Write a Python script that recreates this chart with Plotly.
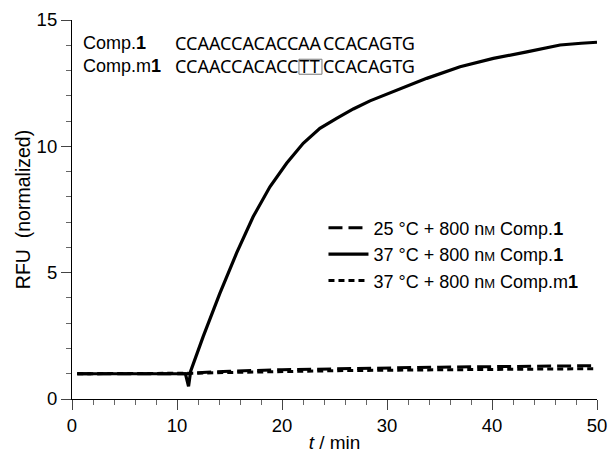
import plotly.graph_objects as go

# ---- data ----
t_37_comp1 = [0.5, 5, 10.8, 11.1, 11.3, 12.49, 14.08, 15.67, 17.25, 18.85, 20.44, 22.02,
              23.61, 25.2, 26.79, 28.38, 30.6, 33.78, 36.96, 40.13, 43.32, 46.49, 48.5, 50.0]
v_37_comp1 = [1.0, 1.0, 1.0, 0.5, 1.1, 2.47, 4.18, 5.77, 7.21, 8.40, 9.33, 10.12,
              10.71, 11.11, 11.48, 11.8, 12.17, 12.69, 13.15, 13.48, 13.74, 14.01, 14.08, 14.12]

t_25_comp1 = [0.5, 5, 11.0, 12.0, 15, 20, 25, 30, 35, 40, 45, 50.0]
v_25_comp1 = [1.0, 1.0, 1.0, 1.04, 1.1, 1.16, 1.2, 1.23, 1.26, 1.28, 1.3, 1.32]

t_37_compm1 = [0.5, 5, 11.0, 12.0, 15, 20, 25, 30, 35, 40, 45, 50.0]
v_37_compm1 = [1.0, 1.0, 1.0, 1.02, 1.05, 1.09, 1.12, 1.14, 1.16, 1.18, 1.19, 1.2]

x_ticks = [0, 10, 20, 30, 40, 50]
y_ticks = [0, 5, 10, 15]

name_25 = "25 °C + 800 n<span style='font-size:13px'>M</span> Comp.<b>1</b>"
name_37 = "37 °C + 800 n<span style='font-size:13px'>M</span> Comp.<b>1</b>"
name_m1 = "37 °C + 800 n<span style='font-size:13px'>M</span> Comp.m<b>1</b>"

FONT = "Liberation Sans, Arial, sans-serif"
SEQF = "Noto Sans, Open Sans, sans-serif"

fig = go.Figure()
fig.add_trace(go.Scatter(x=t_25_comp1, y=v_25_comp1, mode="lines", name=name_25,
                         line=dict(color="black", width=3, dash="14px,6px"),
                         legendrank=1, legendgroup="a"))
fig.add_trace(go.Scatter(x=t_37_compm1, y=v_37_compm1, mode="lines", name=name_m1,
                         line=dict(color="black", width=3, dash="6px,4px"),
                         legendrank=3, legendgroup="c"))
fig.add_trace(go.Scatter(x=t_37_comp1, y=v_37_comp1, mode="lines", name=name_37,
                         line=dict(color="black", width=3.2),
                         legendrank=2, legendgroup="b"))

# sequence annotations (two rows per annotation)
tt_center = 22.71
half = 11.5
rows_mid = 13.63          # centre between the two text rows
row2 = 13.17              # centre of the second row (for the TT box)
ann = []
ann.append(dict(x=0.9, y=rows_mid, text="Comp.<b>1</b><br>Comp.m<b>1</b>", xanchor="left",
                align="left", font=dict(family=FONT, size=18)))
ann.append(dict(x=tt_center, y=rows_mid, text="CCAACCACACC<br>CCAACCACACC", xanchor="right",
                xshift=-half + 1, align="right", font=dict(family=SEQF, size=18)))
ann.append(dict(x=tt_center, y=rows_mid, text="AA<br>TT", xanchor="center",
                font=dict(family=SEQF, size=18)))
ann.append(dict(x=tt_center, y=rows_mid, text="CCACAGTG<br>CCACAGTG", xanchor="left",
                xshift=half - 1, align="left", font=dict(family=SEQF, size=18)))
for a in ann:
    a.update(xref="x", yref="y", showarrow=False, yanchor="middle")

fig.add_shape(type="rect", xref="x", yref="y", xsizemode="pixel", ysizemode="pixel",
              xanchor=tt_center, yanchor=row2, x0=-11.5, x1=11.5, y0=-8, y1=7,
              line=dict(color="#777", width=1))

fig.update_layout(
    width=609, height=461,
    margin=dict(l=72, r=12, t=20, b=62),
    paper_bgcolor="white", plot_bgcolor="white",
    font=dict(family=FONT, size=18, color="black"),
    showlegend=True,
    legend=dict(x=0.479, y=0.381, xanchor="left", yanchor="middle", bgcolor="rgba(0,0,0,0)",
                font=dict(family=FONT, size=18), tracegroupgap=0, itemwidth=40),
    annotations=ann,
    xaxis=dict(range=[0, 50], tickvals=x_ticks, ticks="outside", ticklen=10, tickwidth=1,
               showline=True, linecolor="black", linewidth=1.2, showgrid=False, zeroline=False,
               tickfont=dict(size=18.5), automargin=False,
               minor=dict(dtick=2, ticks="outside", ticklen=5, tickcolor="#666", tickwidth=1),
               title=dict(text="<i>t</i> / min", font=dict(size=19), standoff=0)),
    yaxis=dict(range=[0, 15], tickvals=y_ticks, ticks="outside", ticklen=10, tickwidth=1,
               showline=True, linecolor="black", linewidth=1.2, showgrid=False, zeroline=False,
               tickfont=dict(size=18.5), automargin=False,
               minor=dict(dtick=1, ticks="outside", ticklen=5, tickcolor="#666", tickwidth=1),
               title=dict(text="RFU  (normalized)", font=dict(size=19.5), standoff=0)),
)

fig.write_html("out.html")
